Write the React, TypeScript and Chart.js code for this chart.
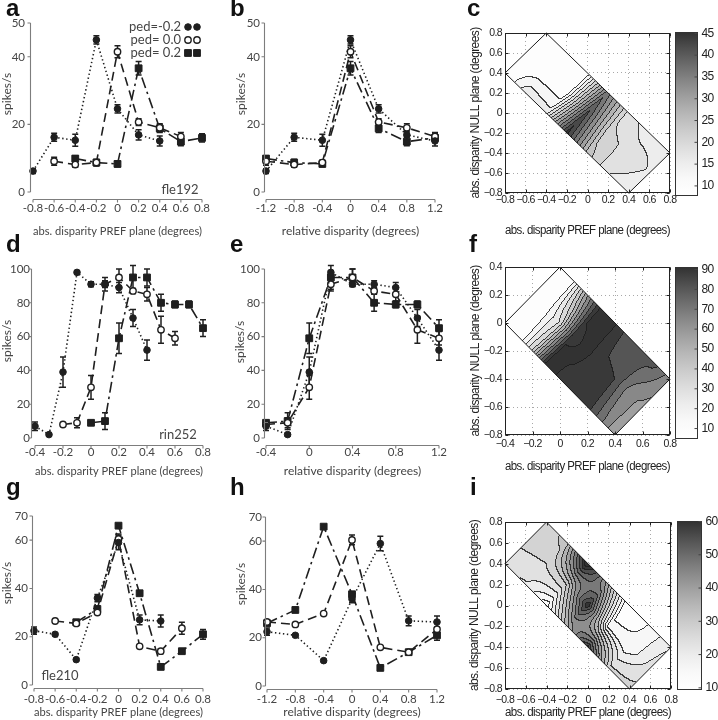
import React, { useEffect, useRef } from "react";
import { Chart, registerables } from "chart.js";

Chart.register(...registerables);

// ================= data =================
const PEDESTALS = [-0.2, 0.0, 0.2];
const PED_LABELS = ["ped=-0.2", "ped= 0.0", "ped= 0.2"];

// cell fle192 (panels a, b, c) — responses sampled at relative disparities
const FLE192_REL = [-1.2, -0.8, -0.4, 0, 0.4, 0.8, 1.2];
const FLE192_PED_M02 = [6.2, 16.2, 15.3, 45.0, 24.6, 16.9, 15.1];
const FLE192_PED_000 = [9.1, 8.1, 8.7, 41.5, 20.7, 19.0, 16.4];
const FLE192_PED_P02 = [9.9, 8.7, 8.3, 36.6, 18.8, 14.9, 16.0];
const FLE192_ERR_M02 = [0.7, 1.2, 1.8, 1.2, 1.2, 1.5, 1.5];
const FLE192_ERR_000 = [1.2, 0.8, 0.8, 1.8, 1.0, 1.2, 1.2];
const FLE192_ERR_P02 = [0.8, 1.0, 0.8, 2.0, 1.2, 1.2, 1.2];

// cell rin252 (panels d, e, f)
const RIN252_REL = [-0.4, -0.2, 0, 0.2, 0.4, 0.6, 0.8, 1.0, 1.2];
const RIN252_PED_M02 = [7, 2, 39, 98, 91, 91, 89, 71, 52];
const RIN252_PED_000 = [8, 9, 30, 91, 95, 87, 85, 64, 59];
const RIN252_PED_P02 = [9, 10, 59, 95, 95, 80, 79, 79, 65];
const RIN252_ERR_M02 = [2.5, 1, 9, 1, 1.5, 2, 3, 5, 6];
const RIN252_ERR_000 = [1, 3, 7, 4, 5, 1.5, 4, 8, 4];
const RIN252_ERR_P02 = [1, 5, 9, 7, 5, 5, 2, 2, 5];

// cell fle210 (panels g, h, i)
const FLE210_REL = [-1.2, -0.8, -0.4, 0, 0.4, 0.8, 1.2];
const FLE210_PED_M02 = [22.5, 21, 10.5, 36, 59, 27, 26.5];
const FLE210_PED_000 = [26.5, 25.5, 30, 60.5, 16, 14, 23.5];
const FLE210_PED_P02 = [26, 31.5, 66, 38, 7.5, 14, 21];
const FLE210_ERR_M02 = [1.5, 0.5, 0.5, 1.5, 3, 2, 2.5];
const FLE210_ERR_000 = [0.5, 0.5, 0.5, 2, 0.5, 1, 2.5];
const FLE210_ERR_P02 = [0.5, 0.5, 0.5, 0.5, 0.5, 0.5, 2];

// tick labels
const X_TICKS_ABS_FULL = [-0.8, -0.6, -0.4, -0.2, 0, 0.2, 0.4, 0.6, 0.8];
const X_TICKS_REL_FULL = [-1.2, -0.8, -0.4, 0, 0.4, 0.8, 1.2];
const X_TICKS_ABS_RIN = [-0.4, -0.2, 0, 0.2, 0.4, 0.6, 0.8];
const X_TICKS_REL_RIN = [-0.4, 0, 0.4, 0.8, 1.2];
const Y_TICKS_NULL_FULL = [-0.8, -0.6, -0.4, -0.2, 0, 0.2, 0.4, 0.6, 0.8];
const Y_TICKS_NULL_RIN = [-0.8, -0.6, -0.4, -0.2, 0, 0.2, 0.4];
const SPIKE_TICKS_FLE192 = [0, 20, 40, 50];
const SPIKE_TICKS_RIN252 = [0, 20, 40, 60, 80, 100];
const SPIKE_TICKS_FLE210 = [0, 20, 40, 60, 70];
const CBAR_TICKS_FLE192 = [10, 15, 20, 25, 30, 35, 40, 45];
const CBAR_TICKS_RIN252 = [10, 20, 30, 40, 50, 60, 70, 80, 90];
const CBAR_TICKS_FLE210 = [10, 20, 30, 40, 50, 60];

const CELL_FLE192 = {
  name: "fle192",
  rel: FLE192_REL,
  curves: [FLE192_PED_M02, FLE192_PED_000, FLE192_PED_P02],
  errs: [FLE192_ERR_M02, FLE192_ERR_000, FLE192_ERR_P02],
};
const CELL_RIN252 = {
  name: "rin252",
  rel: RIN252_REL,
  curves: [RIN252_PED_M02, RIN252_PED_000, RIN252_PED_P02],
  errs: [RIN252_ERR_M02, RIN252_ERR_000, RIN252_ERR_P02],
};
const CELL_FLE210 = {
  name: "fle210",
  rel: FLE210_REL,
  curves: [FLE210_PED_M02, FLE210_PED_000, FLE210_PED_P02],
  errs: [FLE210_ERR_M02, FLE210_ERR_000, FLE210_ERR_P02],
};

// ================= styles =================
const TUNE_FONT = "Lato, 'Open Sans', sans-serif";
const MAP_FONT = "'Liberation Sans', Arial, sans-serif";
const TXT = "#454545";
const INK = "#1f1f1f";

const SERIES_STYLE = [
  { dash: [1.4, 2.6], pointStyle: "circle", radius: 3.3, fill: INK, bw: 1 },
  { dash: [9, 5], pointStyle: "circle", radius: 3.2, fill: "#ffffff", bw: 1.4 },
  { dash: [11, 4, 2.5, 4], pointStyle: "rect", radius: 4.8, fill: INK, bw: 1 },
];

const fmtAbs = (v: number) => {
  const r = Math.round(v * 10) / 10;
  return r === 0 ? "0" : r.toFixed(1);
};
const fmtMap = (v: number) => fmtAbs(v).replace("-", "\u2212");

function sampleMap(rel: number[], curves: number[][], sVals: number[], r: number, s: number) {
  const n = rel.length;
  const m = sVals.length;
  const eps = 1e-9;
  if (r < rel[0] - eps || r > rel[n - 1] + eps || s < sVals[0] - eps || s > sVals[m - 1] + eps) return null;
  let i = 0;
  while (i < n - 2 && r > rel[i + 1]) i++;
  let k = 0;
  while (k < m - 2 && s > sVals[k + 1]) k++;
  const tr = Math.min(1, Math.max(0, (r - rel[i]) / (rel[i + 1] - rel[i])));
  const ts = Math.min(1, Math.max(0, (s - sVals[k]) / (sVals[k + 1] - sVals[k])));
  const a = curves[k][i] * (1 - tr) + curves[k][i + 1] * tr;
  const b = curves[k + 1][i] * (1 - tr) + curves[k + 1][i + 1] * tr;
  return a * (1 - ts) + b * ts;
}

function grayOf(v: number, vmin: number, vmax: number) {
  const t = Math.min(1, Math.max(0, (v - vmin) / (vmax - vmin)));
  const g = Math.round(255 - Math.pow(t, 1.5) * 205);
  return `rgb(${g},${g},${g})`;
}

function drawMarker(ctx: any, k: number, x: number, y: number) {
  const st = SERIES_STYLE[k];
  ctx.beginPath();
  if (st.pointStyle === "rect") {
    const h = st.radius * Math.SQRT1_2;
    ctx.rect(x - h, y - h, 2 * h, 2 * h);
  } else {
    ctx.arc(x, y, st.radius, 0, Math.PI * 2);
  }
  ctx.fillStyle = st.fill;
  ctx.fill();
  ctx.strokeStyle = INK;
  ctx.lineWidth = st.bw;
  ctx.setLineDash([]);
  ctx.stroke();
}

// ================= plugins =================
const errorBarPlugin = {
  id: "errorBars",
  beforeDatasetsDraw(chart: any) {
    const { ctx } = chart;
    const xs = chart.scales.x;
    const ys = chart.scales.y;
    ctx.save();
    ctx.setLineDash([]);
    ctx.strokeStyle = INK;
    ctx.lineWidth = 1.5;
    chart.data.datasets.forEach((ds: any) => {
      if (!ds.errors) return;
      ds.data.forEach((p: any, j: number) => {
        const e = ds.errors[j];
        if (!e) return;
        const px = xs.getPixelForValue(p.x);
        const yt = ys.getPixelForValue(p.y + e);
        const yb = ys.getPixelForValue(p.y - e);
        ctx.beginPath();
        ctx.moveTo(px, yt);
        ctx.lineTo(px, yb);
        ctx.moveTo(px - 3, yt);
        ctx.lineTo(px + 3, yt);
        ctx.moveTo(px - 3, yb);
        ctx.lineTo(px + 3, yb);
        ctx.stroke();
      });
    });
    ctx.restore();
  },
};

const offsetAxesPlugin = {
  id: "offsetAxes",
  afterDraw(chart: any, _a: any, o: any) {
    const { ctx, chartArea: ca } = chart;
    const xs = chart.scales.x;
    const ys = chart.scales.y;
    const ay = Math.round(ca.bottom + o.gapY) + 0.5;
    const ax = Math.round(ca.left - o.gapX) + 0.5;
    ctx.save();
    ctx.strokeStyle = "#7d7d7d";
    ctx.lineWidth = 1.1;
    ctx.beginPath();
    ctx.moveTo(xs.getPixelForValue(xs.min), ay);
    ctx.lineTo(xs.getPixelForValue(xs.max), ay);
    xs.ticks.forEach((t: any) => {
      const px = xs.getPixelForValue(t.value);
      ctx.moveTo(px, ay);
      ctx.lineTo(px, ay + 3);
    });
    ctx.moveTo(ax, ys.getPixelForValue(ys.min));
    ctx.lineTo(ax, ys.getPixelForValue(ys.max));
    ys.ticks.forEach((t: any) => {
      const py = ys.getPixelForValue(t.value);
      ctx.moveTo(ax, py);
      ctx.lineTo(ax - 3, py);
    });
    ctx.stroke();
    ctx.restore();
  },
};

const notesPlugin = {
  id: "panelNotes",
  afterDraw(chart: any, _a: any, o: any) {
    const { ctx } = chart;
    ctx.save();
    if (o.yTitle) {
      ctx.save();
      ctx.translate(o.yTitle.x, o.yTitle.y);
      ctx.rotate(-Math.PI / 2);
      ctx.font = `12px ${TUNE_FONT}`;
      ctx.fillStyle = TXT;
      ctx.textAlign = "center";
      ctx.textBaseline = "middle";
      ctx.fillText(o.yTitle.text, 0, 0);
      ctx.restore();
    }
    ctx.font = `13px ${TUNE_FONT}`;
    ctx.fillStyle = TXT;
    ctx.textBaseline = "middle";
    if (o.note) {
      ctx.textAlign = "center";
      ctx.fillText(o.note.text, o.note.x, o.note.y);
    }
    if (o.legend) {
      const L = o.legend;
      L.rows.forEach((row: string, k: number) => {
        const y = L.y0 + k * L.dy;
        ctx.font = `13px ${TUNE_FONT}`;
        ctx.fillStyle = TXT;
        ctx.textAlign = "right";
        ctx.fillText(row, L.x, y);
        drawMarker(ctx, k, L.m1, y);
        drawMarker(ctx, k, L.m2, y);
      });
    }
    ctx.restore();
  },
};

const condensePlugin = {
  id: "condenseText",
  beforeLayout(chart: any) {
    (chart.ctx as any).letterSpacing = "-0.6px";
  },
  beforeDraw(chart: any) {
    (chart.ctx as any).letterSpacing = "-0.6px";
  },
};

const contourPlugin = {
  id: "contourMap",
  beforeDatasetsDraw(chart: any, _a: any, o: any) {
    const { ctx, chartArea: ca } = chart;
    const xs = chart.scales.x;
    const ys = chart.scales.y;
    const x0 = Math.round(ca.left);
    const y0 = Math.round(ca.top);
    const W = Math.round(ca.right) - x0;
    const H = Math.round(ca.bottom) - y0;
    const lev = new Int16Array(W * H).fill(-1);
    for (let j = 0; j < H; j++) {
      const yv = ys.getValueForPixel(y0 + j + 0.5);
      for (let i = 0; i < W; i++) {
        const xv = xs.getValueForPixel(x0 + i + 0.5);
        const v = sampleMap(o.rel, o.curves, o.sVals, xv - yv, xv + yv);
        if (v === null) continue;
        lev[j * W + i] = Math.max(0, Math.floor((v - o.vmin) / o.step));
      }
    }
    ctx.save();
    const colors: Record<number, string> = {};
    for (let j = 0; j < H; j++) {
      let i = 0;
      while (i < W) {
        const L = lev[j * W + i];
        let e = i + 1;
        while (e < W && lev[j * W + e] === L) e++;
        if (L >= 0) {
          if (!colors[L]) colors[L] = grayOf(o.vmin + (L + 0.5) * o.step, o.vmin, o.vmax);
          ctx.fillStyle = colors[L];
          ctx.fillRect(x0 + i, y0 + j, e - i, 1);
        }
        i = e;
      }
    }
    ctx.fillStyle = "rgba(28,28,28,0.85)";
    for (let j = 0; j < H; j++) {
      for (let i = 0; i < W; i++) {
        const k = j * W + i;
        const L = lev[k];
        if (L < 0) continue;
        const R = i + 1 < W ? lev[k + 1] : -1;
        const D = j + 1 < H ? lev[k + W] : -1;
        if ((R >= 0 && R !== L) || (D >= 0 && D !== L)) ctx.fillRect(x0 + i, y0 + j, 1, 1);
      }
    }
    const rMin = o.rel[0];
    const rMax = o.rel[o.rel.length - 1];
    const sMin = o.sVals[0];
    const sMax = o.sVals[o.sVals.length - 1];
    const corners = [
      [rMin, sMin],
      [rMax, sMin],
      [rMax, sMax],
      [rMin, sMax],
    ].map(([r, s]) => [xs.getPixelForValue((s + r) / 2), ys.getPixelForValue((s - r) / 2)]);
    ctx.strokeStyle = "#1a1a1a";
    ctx.lineWidth = 1;
    ctx.beginPath();
    corners.forEach(([px, py], idx) => (idx ? ctx.lineTo(px, py) : ctx.moveTo(px, py)));
    ctx.closePath();
    ctx.stroke();
    ctx.restore();
  },
  afterDraw(chart: any, _a: any, o: any) {
    const { ctx, chartArea: ca } = chart;
    const xs = chart.scales.x;
    const ys = chart.scales.y;
    ctx.save();
    ctx.strokeStyle = "#222";
    ctx.lineWidth = 1;
    ctx.setLineDash([]);
    const L = Math.round(ca.left) + 0.5;
    const R = Math.round(ca.right) - 0.5;
    const T = Math.round(ca.top) + 0.5;
    const B = Math.round(ca.bottom) - 0.5;
    ctx.strokeRect(L, T, R - L, B - T);
    ctx.beginPath();
    xs.ticks.forEach((t: any) => {
      const px = Math.round(xs.getPixelForValue(t.value)) + 0.5;
      ctx.moveTo(px, B);
      ctx.lineTo(px, B - 3);
      ctx.moveTo(px, T);
      ctx.lineTo(px, T + 3);
    });
    ys.ticks.forEach((t: any) => {
      const py = Math.round(ys.getPixelForValue(t.value)) + 0.5;
      ctx.moveTo(L, py);
      ctx.lineTo(L + 3, py);
      ctx.moveTo(R, py);
      ctx.lineTo(R - 3, py);
    });
    ctx.stroke();

    // colour bar
    const cb = o.cb;
    const cx = Math.round(ca.right + cb.dx) + 0.5;
    const ct = Math.round(ca.top + cb.dt) + 0.5;
    const cbm = Math.round(ca.bottom + cb.db) + 0.5;
    const grad = ctx.createLinearGradient(0, ct, 0, cbm);
    for (let q = 0; q <= 10; q++) {
      const v = o.vmax - (q / 10) * (o.vmax - o.vmin);
      grad.addColorStop(q / 10, grayOf(v, o.vmin, o.vmax));
    }
    ctx.fillStyle = grad;
    ctx.fillRect(cx, ct, cb.w, cbm - ct);
    ctx.strokeStyle = "#333";
    ctx.strokeRect(cx, ct, cb.w, cbm - ct);
    ctx.font = `12px ${MAP_FONT}`;
    ctx.fillStyle = "#222";
    ctx.textAlign = "left";
    ctx.textBaseline = "middle";
    ctx.beginPath();
    o.cbTicks.forEach((v: number) => {
      const py = ct + ((o.vmax - v) / (o.vmax - o.vmin)) * (cbm - ct);
      ctx.moveTo(cx + cb.w, py);
      ctx.lineTo(cx + cb.w - 3, py);
      ctx.fillText(String(v), cx + cb.w + 4, py);
    });
    ctx.strokeStyle = "#444";
    ctx.stroke();
    ctx.restore();
  },
};

// ================= configs =================
function tuningConfig(p: any) {
  const { box, ca, cell, mode } = p;
  const datasets = cell.curves.map((vals: number[], k: number) => {
    const st = SERIES_STYLE[k];
    return {
      label: PED_LABELS[k],
      data: vals.map((v: number, j: number) => ({
        x: mode === "rel" ? cell.rel[j] : cell.rel[j] / 2 + PEDESTALS[k],
        y: v,
      })),
      errors: cell.errs[k],
      showLine: true,
      borderColor: INK,
      borderWidth: 1.6,
      borderDash: st.dash,
      pointStyle: st.pointStyle,
      pointRadius: st.radius,
      pointBackgroundColor: st.fill,
      pointBorderColor: INK,
      pointBorderWidth: st.bw,
      clip: false,
      tension: 0,
    };
  });
  const tickFont = { family: TUNE_FONT, size: 11.5 };
  return {
    type: "scatter",
    data: { datasets },
    plugins: [errorBarPlugin, offsetAxesPlugin, notesPlugin],
    options: {
      animation: false,
      responsive: false,
      devicePixelRatio: 1,
      events: [],
      layout: { padding: { left: 0, bottom: 0, top: ca.t - box.y, right: box.x + box.w - ca.r } },
      plugins: {
        legend: { display: false },
        tooltip: { enabled: false },
        offsetAxes: { gapX: p.gapX, gapY: p.gapY },
        panelNotes: { note: p.note, legend: p.legend, yTitle: p.yTitle },
      },
      scales: {
        x: {
          type: "linear",
          min: p.xTicks[0],
          max: p.xTicks[p.xTicks.length - 1],
          afterBuildTicks: (s: any) => {
            s.ticks = p.xTicks.map((v: number) => ({ value: v }));
          },
          afterFit: (s: any) => {
            s.height = box.y + box.h - ca.b;
          },
          grid: { display: false, drawTicks: false },
          border: { display: false },
          ticks: {
            padding: p.xLabPad,
            color: TXT,
            font: tickFont,
            autoSkip: false,
            maxRotation: 0,
            minRotation: 0,
            callback: (v: any) => fmtAbs(Number(v)),
          },
          title: {
            display: true,
            text: p.xTitle,
            color: TXT,
            font: { family: TUNE_FONT, size: 12 },
            padding: { top: 0, bottom: p.xTitlePad },
          },
        },
        y: {
          type: "linear",
          min: p.yTicks[0],
          max: p.yTicks[p.yTicks.length - 1],
          afterBuildTicks: (s: any) => {
            s.ticks = p.yTicks.map((v: number) => ({ value: v }));
          },
          afterFit: (s: any) => {
            s.width = ca.l - box.x;
          },
          grid: { display: false, drawTicks: false },
          border: { display: false },
          ticks: {
            padding: p.yLabPad,
            color: TXT,
            font: tickFont,
            autoSkip: false,
            callback: (v: any) => String(v),
          },
          title: { display: false },
        },
      },
    },
  };
}

function contourConfig(p: any) {
  const { box, ca, cell } = p;
  const tickFont = { family: MAP_FONT, size: 10.5 };
  const common = {
    type: "linear",
    grid: { color: "#a8a8a8", drawTicks: false, lineWidth: 1 },
    border: { display: false, dash: [1, 3] },
  };
  return {
    type: "scatter",
    data: { datasets: [] },
    plugins: [condensePlugin, contourPlugin],
    options: {
      animation: false,
      responsive: false,
      devicePixelRatio: 1,
      events: [],
      layout: { padding: { left: 0, bottom: 0, top: ca.t - box.y, right: box.x + box.w - ca.r } },
      plugins: {
        legend: { display: false },
        tooltip: { enabled: false },
        contourMap: {
          rel: cell.rel,
          curves: cell.curves,
          sVals: PEDESTALS.map((v) => 2 * v),
          vmin: p.vmin,
          vmax: p.vmax,
          step: p.step,
          cbTicks: p.cbTicks,
          cb: p.cb,
        },
      },
      scales: {
        x: {
          ...common,
          min: p.xTicks[0],
          max: p.xTicks[p.xTicks.length - 1],
          afterBuildTicks: (s: any) => {
            s.ticks = p.xTicks.map((v: number) => ({ value: v }));
          },
          afterFit: (s: any) => {
            s.height = box.y + box.h - ca.b;
          },
          ticks: {
            padding: p.xLabPad,
            color: "#222",
            font: tickFont,
            autoSkip: false,
            maxRotation: 0,
            minRotation: 0,
            callback: (v: any) => fmtMap(Number(v)),
          },
          title: {
            display: true,
            text: "abs. disparity PREF plane (degrees)",
            color: "#222",
            font: { family: MAP_FONT, size: 12 },
            padding: { top: 0, bottom: p.xTitlePad },
          },
        },
        y: {
          ...common,
          min: p.yTicks[0],
          max: p.yTicks[p.yTicks.length - 1],
          afterBuildTicks: (s: any) => {
            s.ticks = p.yTicks.map((v: number) => ({ value: v }));
          },
          afterFit: (s: any) => {
            s.width = ca.l - box.x;
          },
          ticks: {
            padding: p.yLabPad,
            color: "#222",
            font: tickFont,
            autoSkip: false,
            callback: (v: any) => fmtMap(Number(v)),
          },
          title: {
            display: true,
            text: "abs. disparity NULL plane (degrees)",
            color: "#222",
            font: { family: MAP_FONT, size: 12 },
            padding: { top: p.yTitlePad, bottom: 0 },
          },
        },
      },
    },
  };
}

// ================= layout =================
const COL = [
  { x: 0, w: 232 },
  { x: 232, w: 232 },
  { x: 464, w: 254 },
];
const ROW = [
  { y: 0, h: 240 },
  { y: 240, h: 240 },
  { y: 480, h: 240 },
];
const boxOf = (c: number, r: number) => ({ x: COL[c].x, y: ROW[r].y, w: COL[c].w, h: ROW[r].h });
const ABS_TITLE = "abs. disparity PREF plane (degrees)";
const REL_TITLE = "relative disparity (degrees)";

const PANELS = [
  {
    id: "a",
    box: boxOf(0, 0),
    make: () =>
      tuningConfig({
        box: boxOf(0, 0), ca: { l: 33, r: 202, t: 23, b: 192 }, cell: CELL_FLE192, mode: "abs",
        xTicks: X_TICKS_ABS_FULL, yTicks: SPIKE_TICKS_FLE192, gapX: 3, gapY: 7,
        xLabPad: 9, yLabPad: 8, xTitlePad: 1.4, xTitle: ABS_TITLE,
        yTitle: { text: "spikes/s", x: 7, y: 94 },
        note: { text: CELL_FLE192.name, x: 180, y: 190 },
        legend: { rows: PED_LABELS, x: 181, y0: 27, dy: 13, m1: 188, m2: 197 },
      }),
  },
  {
    id: "b",
    box: boxOf(1, 0),
    make: () =>
      tuningConfig({
        box: boxOf(1, 0), ca: { l: 266, r: 435, t: 23, b: 192 }, cell: CELL_FLE192, mode: "rel",
        xTicks: X_TICKS_REL_FULL, yTicks: SPIKE_TICKS_FLE192, gapX: 2, gapY: 7,
        xLabPad: 9, yLabPad: 6, xTitlePad: 1.4, xTitle: REL_TITLE,
        yTitle: { text: "spikes/s", x: 9, y: 94 },
      }),
  },
  {
    id: "c",
    box: boxOf(2, 0),
    make: () =>
      contourConfig({
        box: boxOf(2, 0), ca: { l: 505, r: 670, t: 33, b: 193 }, cell: CELL_FLE192,
        xTicks: X_TICKS_ABS_FULL, yTicks: Y_TICKS_NULL_FULL, vmin: 7.8, vmax: 45.2, step: 3,
        cbTicks: CBAR_TICKS_FLE192, cb: { dx: 5, w: 22, dt: -1, db: 2 },
        xLabPad: 1, xTitlePad: 2.4, yLabPad: 3, yTitlePad: 4.4,
      }),
  },
  {
    id: "d",
    box: boxOf(0, 1),
    make: () =>
      tuningConfig({
        box: boxOf(0, 1), ca: { l: 35, r: 203, t: 269, b: 438 }, cell: CELL_RIN252, mode: "abs",
        xTicks: X_TICKS_ABS_RIN, yTicks: SPIKE_TICKS_RIN252, gapX: 4, gapY: 7,
        xLabPad: 7.5, yLabPad: 5, xTitlePad: 1.4, xTitle: ABS_TITLE,
        yTitle: { text: "spikes/s", x: 7, y: 101 },
        note: { text: CELL_RIN252.name, x: 178, y: 195 },
      }),
  },
  {
    id: "e",
    box: boxOf(1, 1),
    make: () =>
      tuningConfig({
        box: boxOf(1, 1), ca: { l: 266, r: 439, t: 269, b: 438 }, cell: CELL_RIN252, mode: "rel",
        xTicks: X_TICKS_REL_RIN, yTicks: SPIKE_TICKS_RIN252, gapX: 2, gapY: 7,
        xLabPad: 7.5, yLabPad: 6, xTitlePad: 1.4, xTitle: REL_TITLE,
        yTitle: { text: "spikes/s", x: 8, y: 102 },
      }),
  },
  {
    id: "f",
    box: boxOf(2, 1),
    make: () =>
      contourConfig({
        box: boxOf(2, 1), ca: { l: 505, r: 670, t: 267, b: 435 }, cell: CELL_RIN252,
        xTicks: X_TICKS_ABS_RIN, yTicks: Y_TICKS_NULL_RIN, vmin: 5, vmax: 91, step: 8,
        cbTicks: CBAR_TICKS_RIN252, cb: { dx: 5, w: 22, dt: 0, db: 3 },
        xLabPad: 3, xTitlePad: 6.4, yLabPad: 3, yTitlePad: 4.4,
      }),
  },
  {
    id: "g",
    box: boxOf(0, 2),
    make: () =>
      tuningConfig({
        box: boxOf(0, 2), ca: { l: 34, r: 203, t: 516, b: 685 }, cell: CELL_FLE210, mode: "abs",
        xTicks: X_TICKS_ABS_FULL, yTicks: SPIKE_TICKS_FLE210, gapX: 2, gapY: 3,
        xLabPad: 7.4, yLabPad: 6, xTitlePad: 0.4, xTitle: ABS_TITLE,
        yTitle: { text: "spikes/s", x: 7, y: 103 },
        note: { text: CELL_FLE210.name, x: 60, y: 196 },
      }),
  },
  {
    id: "h",
    box: boxOf(1, 2),
    make: () =>
      tuningConfig({
        box: boxOf(1, 2), ca: { l: 267, r: 437, t: 517, b: 686 }, cell: CELL_FLE210, mode: "rel",
        xTicks: X_TICKS_REL_FULL, yTicks: SPIKE_TICKS_FLE210, gapX: 2, gapY: 3,
        xLabPad: 6.4, yLabPad: 5, xTitlePad: 0.4, xTitle: REL_TITLE,
        yTitle: { text: "spikes/s", x: 9, y: 104 },
      }),
  },
  {
    id: "i",
    box: boxOf(2, 2),
    make: () =>
      contourConfig({
        box: boxOf(2, 2), ca: { l: 505, r: 671, t: 522, b: 689 }, cell: CELL_FLE210,
        xTicks: X_TICKS_ABS_FULL, yTicks: Y_TICKS_NULL_FULL, vmin: 9.5, vmax: 60, step: 4,
        cbTicks: CBAR_TICKS_FLE210, cb: { dx: 6, w: 24, dt: -1, db: 0 },
        xLabPad: 4.4, xTitlePad: 0.4, yLabPad: 3, yTitlePad: 3.4,
      }),
  },
];

const LETTERS = [
  { t: "a", x: 6, y: -4 },
  { t: "b", x: 230, y: -4 },
  { t: "c", x: 467, y: -4 },
  { t: "d", x: 6, y: 232 },
  { t: "e", x: 230, y: 232 },
  { t: "f", x: 469, y: 232 },
  { t: "g", x: 6, y: 475 },
  { t: "h", x: 230, y: 475 },
  { t: "i", x: 470, y: 475 },
];

function ChartBox({ box, make }: any) {
  const ref = useRef<HTMLCanvasElement | null>(null);
  useEffect(() => {
    if (!ref.current) return;
    const chart = new Chart(ref.current, make());
    return () => chart.destroy();
  }, [make]);
  return (
    <canvas
      ref={ref}
      width={box.w}
      height={box.h}
      style={{ position: "absolute", left: box.x, top: box.y, width: box.w, height: box.h }}
    />
  );
}

export default function App() {
  return (
    <div
      style={{
        position: "absolute",
        left: 0,
        top: 0,
        width: 718,
        height: 720,
        background: "#ffffff",
        overflow: "hidden",
      }}
    >
      {PANELS.map((p) => (
        <ChartBox key={p.id} box={p.box} make={p.make} />
      ))}
      {LETTERS.map((l) => (
        <div
          key={l.t}
          style={{
            position: "absolute",
            left: l.x,
            top: l.y,
            font: "bold 24px 'Liberation Sans', Arial, sans-serif",
            lineHeight: "24px",
            color: "#111",
          }}
        >
          {l.t}
        </div>
      ))}
    </div>
  );
}
